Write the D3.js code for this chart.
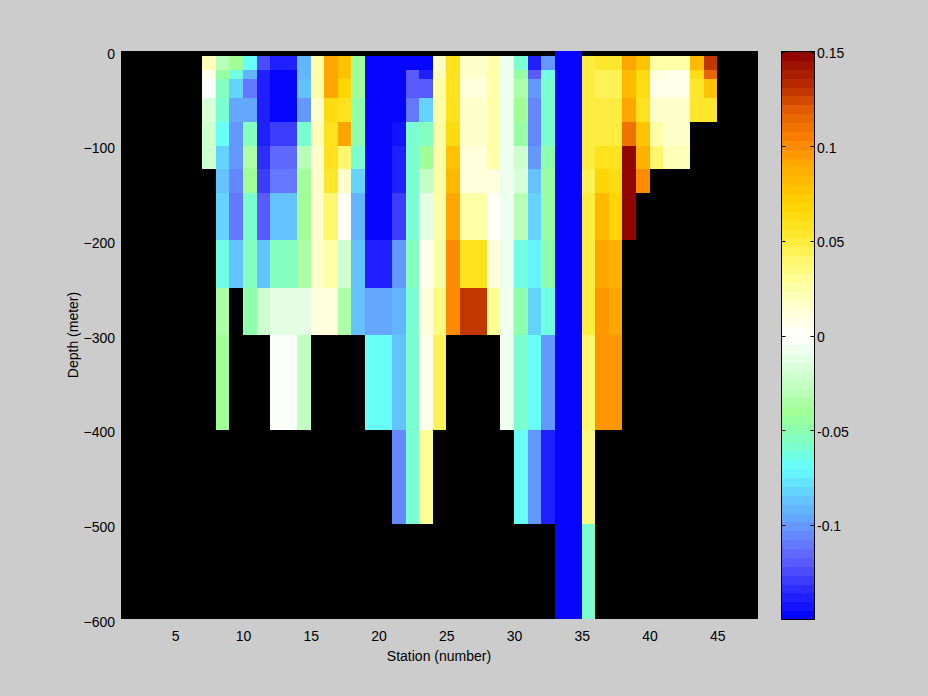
<!DOCTYPE html>
<html>
<head>
<meta charset="utf-8">
<script src="https://cdn.jsdelivr.net/npm/d3@7"></script>
<style>
  html, body { margin: 0; padding: 0; background: #cccccc; }
  svg { display: block; }
  text { font-family: "Liberation Sans", Arial, Helvetica, sans-serif; font-size: 14px; fill: #000; }
</style>
</head>
<body>
<svg id="chart" width="928" height="696"></svg>
<script>
// ---------------- DATA ----------------
// Station of the left edge of each pcolor column (cell spans station .. station+1)
const stations = [7,8,9,10,11,12,13,14,15,16,17,18,19,20,21,22,23,24,25,26,27,28,29,30,31,32,33,34,35,36,37,38,39,40,41,42,43,44];
// Depth vertices (m); each row spans depthEdges[i] .. depthEdges[i+1]
const depthEdges = [0,5,20,30,50,75,100,125,150,200,250,300,400,500,600];
const N = null;
// anomaly values per depth row (stations 7..44)
const row_0   = [N,N,N,N,N,N,N,N,N,N,N,N,N,N,N,N,N,N,N,N,N,N,N,N,N,N,-0.155,-0.155,N,N,N,N,N,N,N,N,N,N];
const row_5   = [0.02,-0.03,-0.042,-0.07,-0.122,-0.137,-0.137,-0.09,0.025,0.09,0.075,-0.04,-0.155,-0.155,-0.155,-0.155,-0.155,0.018,0.058,0.018,0.018,0.025,-0.008,-0.057,-0.137,-0.1,-0.155,-0.155,0.05,0.055,0.055,0.09,0.075,0.025,0.025,0.025,0.08,0.127];
const row_20  = [0.007,-0.045,-0.062,-0.09,-0.137,-0.155,-0.155,-0.09,0.027,0.09,0.075,-0.04,-0.155,-0.155,-0.155,-0.12,-0.137,0.02,0.058,0.015,0.015,0.025,-0.008,-0.045,-0.12,-0.065,-0.155,-0.155,0.05,0.045,0.045,0.082,0.065,0.01,0.008,0.008,0.062,0.115];
const row_30  = [-0.004,-0.055,-0.08,-0.108,-0.14,-0.155,-0.155,-0.085,0.027,0.09,0.068,-0.04,-0.155,-0.155,-0.155,-0.12,-0.12,0.025,0.058,0.01,0.01,0.025,-0.008,-0.035,-0.1,-0.057,-0.155,-0.155,0.05,0.045,0.045,0.082,0.065,0.008,0.008,0.008,0.055,0.078];
const row_50  = [-0.015,-0.06,-0.095,-0.095,-0.14,-0.155,-0.155,-0.1,0.018,0.065,0.058,-0.05,-0.155,-0.155,-0.155,-0.11,-0.08,0.025,0.06,0.015,0.015,0.025,-0.008,-0.04,-0.105,-0.057,-0.155,-0.155,0.05,0.048,0.048,0.09,0.06,0.015,0.015,0.015,0.052,0.056];
const row_75  = [-0.02,-0.07,-0.1,-0.055,-0.137,-0.128,-0.128,-0.06,0.02,0.06,0.09,-0.05,-0.155,-0.155,-0.145,-0.06,-0.055,0.025,0.065,0.018,0.018,0.025,-0.008,-0.043,-0.105,-0.057,-0.155,-0.155,0.05,0.05,0.05,0.11,0.075,0.027,0.018,0.018,N,N];
const row_100 = [-0.02,-0.08,-0.1,-0.035,-0.132,-0.115,-0.115,-0.03,0.018,0.06,0.042,-0.06,-0.155,-0.155,-0.14,-0.06,-0.04,0.025,0.075,0.01,0.01,0.025,-0.008,-0.022,-0.1,-0.05,-0.155,-0.155,0.05,0.058,0.058,0.148,0.085,0.04,0.02,0.02,N,N];
const row_125 = [N,-0.085,-0.105,-0.04,-0.128,-0.108,-0.108,-0.04,0.018,0.052,0.018,-0.08,-0.155,-0.155,-0.137,-0.057,-0.027,0.025,0.082,0.01,0.01,0.01,-0.008,-0.015,-0.085,-0.043,-0.155,-0.155,0.045,0.07,0.065,0.148,0.1,N,N,N,N,N];
const row_150 = [N,-0.083,-0.11,-0.06,-0.12,-0.085,-0.085,-0.04,0.018,0.042,0.003,-0.09,-0.155,-0.155,-0.128,-0.057,-0.01,0.027,0.09,0.025,0.025,0.003,-0.008,-0.03,-0.08,-0.043,-0.155,-0.155,0.048,0.08,0.07,0.148,N,N,N,N,N,N];
const row_200 = [N,-0.062,-0.085,-0.055,-0.085,-0.055,-0.055,-0.037,0.015,0.027,-0.02,-0.085,-0.137,-0.137,-0.1,-0.055,0.005,0.027,0.1,0.06,0.06,0.01,-0.008,-0.065,-0.073,-0.05,-0.155,-0.155,0.048,0.09,0.088,N,N,N,N,N,N,N];
const row_250 = [N,-0.037,N,-0.05,-0.022,-0.012,-0.012,-0.012,0.012,0.012,-0.035,-0.085,-0.097,-0.097,-0.09,-0.057,0.01,0.035,0.103,0.13,0.13,0.032,-0.008,-0.05,-0.08,-0.062,-0.155,-0.155,0.048,0.097,0.09,N,N,N,N,N,N,N];
const row_300 = [N,-0.04,N,N,N,-0.003,-0.003,-0.027,N,N,N,N,-0.07,-0.07,-0.085,-0.06,0.006,0.045,N,N,N,N,-0.006,-0.06,-0.068,-0.1,-0.155,-0.155,0.042,0.095,0.095,N,N,N,N,N,N,N];
const row_400 = [N,N,N,N,N,N,N,N,N,N,N,N,N,N,-0.105,-0.058,0.032,N,N,N,N,N,N,-0.07,-0.1,-0.137,-0.155,-0.155,0.035,N,N,N,N,N,N,N,N,N];
const row_500 = [N,N,N,N,N,N,N,N,N,N,N,N,N,N,N,N,N,N,N,N,N,N,N,N,N,N,-0.155,-0.155,-0.06,N,N,N,N,N,N,N,N,N];
const rows = [row_0,row_5,row_20,row_30,row_50,row_75,row_100,row_125,row_150,row_200,row_250,row_300,row_400,row_500];

const xTicks = [5,10,15,20,25,30,35,40,45];
const yTicks = [0,-100,-200,-300,-400,-500,-600];
const cbTicks = [-0.1,-0.05,0,0.05,0.1,0.15];
const cbTickLabels = ["-0.1","-0.05","0","0.05","0.1","0.15"];

// colormap anchors
const cmapStops = [-0.15,-0.135,-0.12,-0.11,-0.1,-0.085,-0.07,-0.06,-0.05,-0.04,-0.03,-0.015,0,0.015,0.03,0.042,0.05,0.06,0.07,0.08,0.09,0.1,0.11,0.12,0.13,0.15];
const cmapColors = ["#0000ff","#2828ff","#5a5aff","#6478ff","#649bff","#64c8ff","#64ffff","#78ffd7","#8cffaf","#a0ff96","#b9ffb9","#dcffdc","#ffffff","#ffffd2","#ffff96","#fff564","#ffeb3c","#ffe119","#ffd200","#ffbe00","#ffaa00","#ff8c00","#f07300","#e15a00","#be3200","#8c0000"];

// ---------------- CHART ----------------
const svg = d3.select("#chart");
const L = 121, R = 758, T = 51, B = 619;
const x = d3.scaleLinear().domain([1, 48]).range([L, R]);
const y = d3.scaleLinear().domain([0, -600]).range([T, B]);

const vmin = -0.15, vmax = 0.15, nLevels = 64;
const interp = d3.scaleLinear().domain(cmapStops).range(cmapColors).interpolate(d3.interpolateRgb).clamp(true);
const levelColors = d3.range(nLevels).map(i => interp(vmin + (i + 0.5) * (vmax - vmin) / nLevels));
const colorOf = v => {
  let i = Math.floor((v - vmin) / (vmax - vmin) * nLevels);
  i = Math.max(0, Math.min(nLevels - 1, i));
  return levelColors[i];
};

svg.append("rect").attr("x", 0).attr("y", 0).attr("width", 928).attr("height", 696).attr("fill", "#cccccc");
svg.append("rect").attr("x", L).attr("y", T).attr("width", R - L).attr("height", B - T).attr("fill", "#000");

const cells = [];
rows.forEach((row, ri) => {
  row.forEach((v, ci) => {
    if (v !== null) cells.push({ s: stations[ci], d0: depthEdges[ri], d1: depthEdges[ri + 1], v });
  });
});
svg.append("g").selectAll("rect").data(cells).join("rect")
  .attr("x", d => x(d.s))
  .attr("y", d => y(-d.d0))
  .attr("width", d => x(d.s + 1) - x(d.s))
  .attr("height", d => y(-d.d1) - y(-d.d0))
  .attr("fill", d => colorOf(d.v))
  .attr("shape-rendering", "crispEdges");

// axes
const xAxis = d3.axisBottom(x).tickValues(xTicks).tickSize(0).tickPadding(0);
const gx = svg.append("g").attr("transform", `translate(0,${B})`).call(xAxis);
gx.select(".domain").remove();
gx.selectAll("text").attr("dy", null).attr("y", 22).style("font-size", "14px").style("font-family", "'Liberation Sans', Arial, sans-serif");

const yAxis = d3.axisLeft(y).tickValues(yTicks).tickSize(0).tickPadding(0);
const gy = svg.append("g").attr("transform", `translate(${L},0)`).call(yAxis);
gy.select(".domain").remove();
gy.selectAll("text").attr("dy", null).attr("x", -6).attr("y", 7).style("font-size", "14px").style("font-family", "'Liberation Sans', Arial, sans-serif");

svg.append("text").attr("x", 439).attr("y", 661).attr("text-anchor", "middle").text("Station (number)");
svg.append("text").attr("transform", "translate(78,335) rotate(-90)").attr("text-anchor", "middle").text("Depth (meter)");

// colorbar
const cbL = 781.5, cbW = 33, cbT = 51.5, cbB = 619.5;
const cy = d3.scaleLinear().domain([vmin, vmax]).range([cbB, cbT]);
svg.append("g").selectAll("rect").data(levelColors).join("rect")
  .attr("x", cbL).attr("width", cbW)
  .attr("y", (c, i) => cy(vmin + (i + 1) * (vmax - vmin) / nLevels))
  .attr("height", (c, i) => cy(vmin + i * (vmax - vmin) / nLevels) - cy(vmin + (i + 1) * (vmax - vmin) / nLevels) + 0.5)
  .attr("fill", c => c).attr("shape-rendering", "crispEdges");
svg.append("rect").attr("x", cbL).attr("y", cbT).attr("width", cbW).attr("height", cbB - cbT)
  .attr("fill", "none").attr("stroke", "#000").attr("stroke-width", 1);
const cbTickG = svg.append("g").selectAll("g").data(cbTicks).join("g");
cbTickG.append("line").attr("x1", cbL).attr("x2", cbL + 4).attr("y1", d => Math.round(cy(d)) + 0.5).attr("y2", d => Math.round(cy(d)) + 0.5).attr("stroke", "#000");
cbTickG.append("line").attr("x1", cbL + cbW - 4).attr("x2", cbL + cbW).attr("y1", d => Math.round(cy(d)) + 0.5).attr("y2", d => Math.round(cy(d)) + 0.5).attr("stroke", "#000");
cbTickG.append("text").attr("x", 817).attr("y", d => cy(d) + 6.5).text((d, i) => cbTickLabels[i]);
</script>
</body>
</html>
